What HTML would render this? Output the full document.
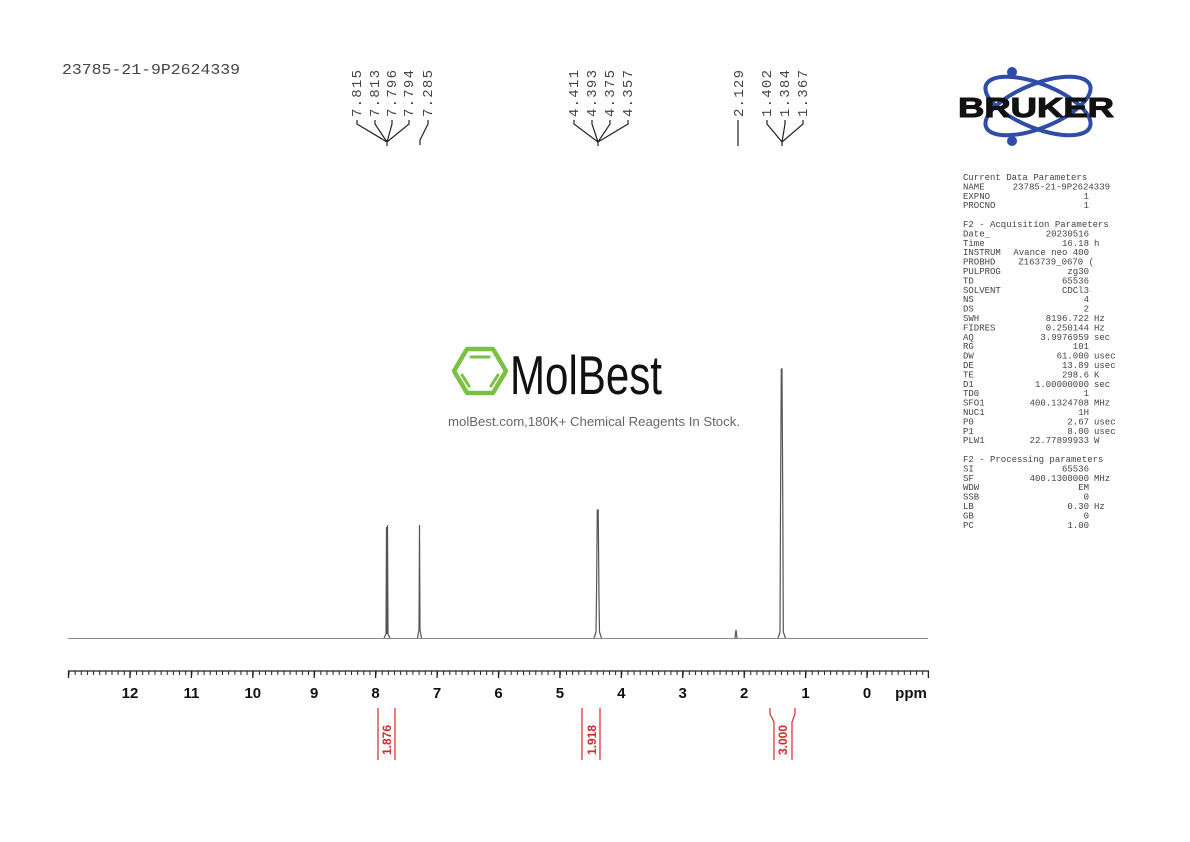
<!DOCTYPE html>
<html><head><meta charset="utf-8"><style>
html,body{margin:0;padding:0;background:#fff;}
svg{display:block;}
.m{font-family:"Liberation Mono",monospace;}
.p{font-family:"Liberation Mono",monospace;font-size:9px;fill:#444;}
</style></head><body>
<svg width="1190" height="842" viewBox="0 0 1190 842" xmlns="http://www.w3.org/2000/svg">
<defs>
<pattern id="tk" patternUnits="userSpaceOnUse" x="68.5" y="0" width="6.142" height="842">
<line x1="0.5" y1="671" x2="0.5" y2="675" stroke="#222" stroke-width="1"/>
</pattern>
</defs>
<text x="62" y="74" class="m" font-size="15" fill="#444" textLength="178" lengthAdjust="spacingAndGlyphs">23785-21-9P2624339</text>

<!-- peak labels -->
<g class="m" font-size="14" fill="#444">
<text transform="translate(361,117) rotate(-90)" textLength="47">7.815</text>
<text transform="translate(379,117) rotate(-90)" textLength="47">7.813</text>
<text transform="translate(396,117) rotate(-90)" textLength="47">7.796</text>
<text transform="translate(413,117) rotate(-90)" textLength="47">7.794</text>
<text transform="translate(432,117) rotate(-90)" textLength="47">7.285</text>
<text transform="translate(578,117) rotate(-90)" textLength="47">4.411</text>
<text transform="translate(596,117) rotate(-90)" textLength="47">4.393</text>
<text transform="translate(614,117) rotate(-90)" textLength="47">4.375</text>
<text transform="translate(632,117) rotate(-90)" textLength="47">4.357</text>
<text transform="translate(743,117) rotate(-90)" textLength="47">2.129</text>
<text transform="translate(771,117) rotate(-90)" textLength="47">1.402</text>
<text transform="translate(789,117) rotate(-90)" textLength="47">1.384</text>
<text transform="translate(807,117) rotate(-90)" textLength="47">1.367</text>
</g>
<g stroke="#222" stroke-width="1.2" fill="none">
<path d="M357,120 v4 L387,142 v4 M375,120 v4 L387,142 M392,120 v4 L387,142 M409,120 v4 L387,142"/>
<path d="M428,120 v4 L420,140 v5"/>
<path d="M574,120 v4 L598,142 v4 M592,120 v4 L598,142 M610,120 v4 L598,142 M628,120 v4 L598,142"/>
<path d="M738,120 V146"/>
<path d="M767,120 v4 L782,142 v4 M785,120 v4 L782,142 M803,120 v4 L782,142"/>
</g>

<!-- logo MolBest -->
<g fill="none" stroke="#7ac143" stroke-width="4.5" stroke-linejoin="round">
<polygon points="467,349 493,349 506,371 493,393 467,393 454,371"/>
</g>
<g stroke="#7ac143" stroke-width="3" stroke-linecap="round">
<line x1="471" y1="357" x2="489" y2="357"/>
<line x1="462" y1="375" x2="469" y2="386"/>
<line x1="498" y1="375" x2="491" y2="386"/>
</g>
<text x="510" y="394" font-family="Liberation Sans,sans-serif" font-size="55" fill="#111" textLength="152" lengthAdjust="spacingAndGlyphs">MolBest</text>
<text x="448" y="426" font-family="Liberation Sans,sans-serif" font-size="13" fill="#666" textLength="292" lengthAdjust="spacingAndGlyphs">molBest.com,180K+ Chemical Reagents In Stock.</text>

<!-- Bruker -->
<g fill="none" stroke="#2e4ca8" stroke-width="4">
<ellipse cx="1038" cy="106" rx="56" ry="22" transform="rotate(22 1038 106)"/>
<ellipse cx="1038" cy="106" rx="56" ry="22" transform="rotate(-22 1038 106)"/>
</g>
<circle cx="1012" cy="72" r="5" fill="#2e4ca8"/>
<circle cx="1012" cy="141" r="5" fill="#2e4ca8"/>
<text x="958" y="117" font-family="Liberation Sans,sans-serif" font-weight="bold" font-size="28" fill="#111" stroke="#111" stroke-width="1" textLength="156" lengthAdjust="spacingAndGlyphs">BRUKER</text>

<!-- params -->
<g class="p">
<text x="963" y="180">Current Data Parameters</text>
<text x="963" y="189.4">NAME</text><text x="1110" y="189.4" text-anchor="end">23785-21-9P2624339</text>
<text x="963" y="198.8">EXPNO</text><text x="1089" y="198.8" text-anchor="end">1</text>
<text x="963" y="208.2">PROCNO</text><text x="1089" y="208.2" text-anchor="end">1</text>
<text x="963" y="227">F2 - Acquisition Parameters</text>
<text x="963" y="236.4">Date_</text><text x="1089" y="236.4" text-anchor="end">20230516</text>
<text x="963" y="245.8">Time</text><text x="1089" y="245.8" text-anchor="end">16.18</text><text x="1094" y="245.8">h</text>
<text x="963" y="255.2">INSTRUM</text><text x="1089" y="255.2" text-anchor="end">Avance neo 400</text>
<text x="963" y="264.6">PROBHD</text><text x="1094" y="264.6" text-anchor="end">Z163739_0670 (</text>
<text x="963" y="274">PULPROG</text><text x="1089" y="274" text-anchor="end">zg30</text>
<text x="963" y="283.4">TD</text><text x="1089" y="283.4" text-anchor="end">65536</text>
<text x="963" y="292.8">SOLVENT</text><text x="1089" y="292.8" text-anchor="end">CDCl3</text>
<text x="963" y="302.2">NS</text><text x="1089" y="302.2" text-anchor="end">4</text>
<text x="963" y="311.6">DS</text><text x="1089" y="311.6" text-anchor="end">2</text>
<text x="963" y="321">SWH</text><text x="1089" y="321" text-anchor="end">8196.722</text><text x="1094" y="321">Hz</text>
<text x="963" y="330.4">FIDRES</text><text x="1089" y="330.4" text-anchor="end">0.250144</text><text x="1094" y="330.4">Hz</text>
<text x="963" y="339.8">AQ</text><text x="1089" y="339.8" text-anchor="end">3.9976959</text><text x="1094" y="339.8">sec</text>
<text x="963" y="349.2">RG</text><text x="1089" y="349.2" text-anchor="end">101</text>
<text x="963" y="358.6">DW</text><text x="1089" y="358.6" text-anchor="end">61.000</text><text x="1094" y="358.6">usec</text>
<text x="963" y="368">DE</text><text x="1089" y="368" text-anchor="end">13.89</text><text x="1094" y="368">usec</text>
<text x="963" y="377.4">TE</text><text x="1089" y="377.4" text-anchor="end">298.6</text><text x="1094" y="377.4">K</text>
<text x="963" y="386.8">D1</text><text x="1089" y="386.8" text-anchor="end">1.00000000</text><text x="1094" y="386.8">sec</text>
<text x="963" y="396.2">TD0</text><text x="1089" y="396.2" text-anchor="end">1</text>
<text x="963" y="405.6">SFO1</text><text x="1089" y="405.6" text-anchor="end">400.1324708</text><text x="1094" y="405.6">MHz</text>
<text x="963" y="415">NUC1</text><text x="1089" y="415" text-anchor="end">1H</text>
<text x="963" y="424.4">P0</text><text x="1089" y="424.4" text-anchor="end">2.67</text><text x="1094" y="424.4">usec</text>
<text x="963" y="433.8">P1</text><text x="1089" y="433.8" text-anchor="end">8.00</text><text x="1094" y="433.8">usec</text>
<text x="963" y="443.2">PLW1</text><text x="1089" y="443.2" text-anchor="end">22.77899933</text><text x="1094" y="443.2">W</text>
<text x="963" y="462">F2 - Processing parameters</text>
<text x="963" y="471.4">SI</text><text x="1089" y="471.4" text-anchor="end">65536</text>
<text x="963" y="480.8">SF</text><text x="1089" y="480.8" text-anchor="end">400.1300000</text><text x="1094" y="480.8">MHz</text>
<text x="963" y="490.2">WDW</text><text x="1089" y="490.2" text-anchor="end">EM</text>
<text x="963" y="499.6">SSB</text><text x="1089" y="499.6" text-anchor="end">0</text>
<text x="963" y="509">LB</text><text x="1089" y="509" text-anchor="end">0.30</text><text x="1094" y="509">Hz</text>
<text x="963" y="518.4">GB</text><text x="1089" y="518.4" text-anchor="end">0</text>
<text x="963" y="527.8">PC</text><text x="1089" y="527.8" text-anchor="end">1.00</text>
</g>

<!-- spectrum -->
<line x1="68" y1="638.5" x2="928" y2="638.5" stroke="#888" stroke-width="1"/>
<g stroke="#555" stroke-width="1.2" fill="none">
<path d="M384,638 L386,634 L386.5,527 L387,634 L387.5,525 L388,634 L390,638"/>
<path d="M417.5,638 L419,630 L419.5,525 L420,630 L421.5,638"/>
<path d="M594,638 L596,632 L596.5,597 L597.3,510 L598.2,510 L599,597 L599.5,632 L601.5,638"/>
<path d="M735,638 L736,630 L737,638"/>
<path d="M778,638 L780,632 L780.5,507 L781.3,369 L782,369 L782.8,507 L783.3,632 L785.5,638"/>
</g>

<!-- axis -->
<line x1="68" y1="671" x2="929" y2="671" stroke="#222" stroke-width="1.2"/>
<rect x="68" y="671" width="861" height="5" fill="url(#tk)"/>
<g stroke="#222" stroke-width="1.3">
<line x1="68.5" y1="671" x2="68.5" y2="678"/>
<line x1="130" y1="671" x2="130" y2="678"/>
<line x1="191.4" y1="671" x2="191.4" y2="678"/>
<line x1="252.8" y1="671" x2="252.8" y2="678"/>
<line x1="314.2" y1="671" x2="314.2" y2="678"/>
<line x1="375.6" y1="671" x2="375.6" y2="678"/>
<line x1="437.1" y1="671" x2="437.1" y2="678"/>
<line x1="498.5" y1="671" x2="498.5" y2="678"/>
<line x1="559.9" y1="671" x2="559.9" y2="678"/>
<line x1="621.3" y1="671" x2="621.3" y2="678"/>
<line x1="682.7" y1="671" x2="682.7" y2="678"/>
<line x1="744.2" y1="671" x2="744.2" y2="678"/>
<line x1="805.6" y1="671" x2="805.6" y2="678"/>
<line x1="867" y1="671" x2="867" y2="678"/>
<line x1="928.4" y1="671" x2="928.4" y2="678"/>
</g>
<g font-family="Liberation Sans,sans-serif" font-weight="bold" font-size="15" fill="#111" text-anchor="middle">
<text x="130" y="698">12</text><text x="191.4" y="698">11</text><text x="252.8" y="698">10</text>
<text x="314.2" y="698">9</text><text x="375.6" y="698">8</text><text x="437.1" y="698">7</text>
<text x="498.5" y="698">6</text><text x="559.9" y="698">5</text><text x="621.3" y="698">4</text>
<text x="682.7" y="698">3</text><text x="744.2" y="698">2</text><text x="805.6" y="698">1</text>
<text x="867" y="698">0</text><text x="911" y="698">ppm</text>
</g>

<!-- integrals -->
<g stroke="#d42a2a" stroke-width="1.2" fill="none">
<path d="M378,708 V760 M395,708 V760"/>
<path d="M582,708 V760 M600,708 V760"/>
<path d="M770,708 V714 L774,722 V760 M795,708 V714 L792,722 V760"/>
</g>
<g font-family="Liberation Sans,sans-serif" font-weight="bold" font-size="12" fill="#d42a2a" text-anchor="middle">
<text transform="translate(391,740) rotate(-90)">1.876</text>
<text transform="translate(596,740) rotate(-90)">1.918</text>
<text transform="translate(787,740) rotate(-90)">3.000</text>
</g>
</svg>
</body></html>
